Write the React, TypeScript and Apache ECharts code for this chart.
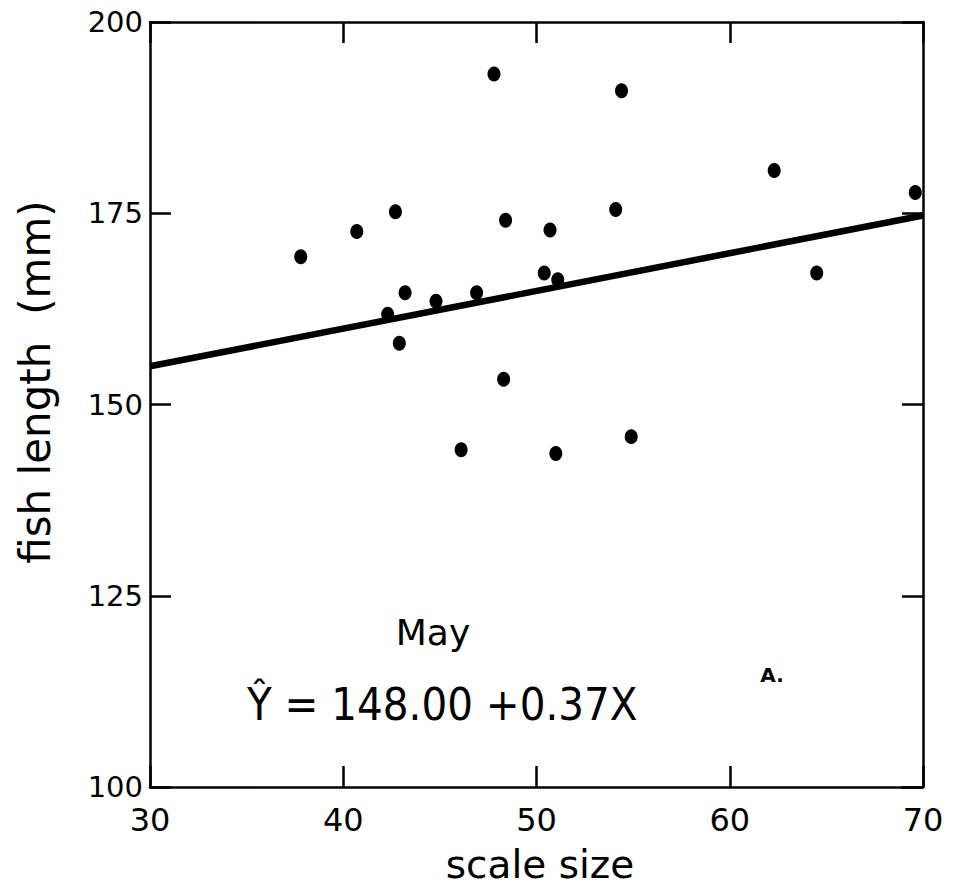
import React, { useEffect, useRef } from "react";
import * as echarts from "echarts";

const scaleSize = [37.8, 40.7, 42.7, 42.3, 43.2, 42.9, 44.8, 46.9, 46.1, 47.8, 48.4, 48.3, 50.4, 50.7, 51.1, 51.0, 54.1, 54.4, 54.9, 62.3, 64.5, 69.6];
const fishLength = [169.3, 172.6, 175.2, 161.8, 164.6, 158.0, 163.5, 164.6, 144.1, 193.2, 174.1, 153.3, 167.2, 172.8, 166.3, 143.6, 175.5, 191.0, 145.8, 180.6, 167.2, 177.7];
const fitX = [30, 70];
const fitY = [155.0, 174.7];
const xTicks = [30, 40, 50, 60, 70];
const yTicks = [100, 125, 150, 175, 200];
const monthLabel = "May";
const equationLabel = "Ŷ = 148.00 +0.37X";
const panelLabel = "A.";
const xTitle = "scale size";
const yTitle = "fish length  (mm)";

const geo = "'DejaVu Sans', sans-serif";
const narrow = "'DejaVu Sans Condensed', 'Liberation Sans Narrow', sans-serif";

export default function App() {
  const ref = useRef<HTMLDivElement>(null);
  useEffect(() => {
    if (!ref.current) return;
    const chart = echarts.init(ref.current, null, { renderer: "svg" });
    const axisLine = { show: true, lineStyle: { color: "#000", width: 2.5 } };
    const tick = { show: true, inside: true, length: 21, lineStyle: { color: "#000", width: 2.5 } };
    chart.setOption({
      animation: false,
      backgroundColor: "#fff",
      grid: { left: 150, right: 35, top: 22, bottom: 103 },
      xAxis: [
        {
          type: "value", min: xTicks[0], max: xTicks[xTicks.length - 1], interval: 10,
          axisLine, axisTick: tick, splitLine: { show: false },
          axisLabel: { margin: 17, fontSize: 32, color: "#000", fontFamily: geo },
        },
        {
          type: "value", position: "top", min: xTicks[0], max: xTicks[xTicks.length - 1], interval: 10,
          axisLine, axisTick: tick, splitLine: { show: false }, axisLabel: { show: false },
        },
      ],
      yAxis: [
        {
          type: "value", min: yTicks[0], max: yTicks[yTicks.length - 1], interval: 25,
          axisLine, axisTick: tick, splitLine: { show: false },
          axisLabel: { margin: 7, fontSize: 29, color: "#000", fontFamily: geo },
        },
        {
          type: "value", position: "right", min: yTicks[0], max: yTicks[yTicks.length - 1], interval: 25,
          axisLine, axisTick: tick, splitLine: { show: false }, axisLabel: { show: false },
        },
      ],
      series: [
        {
          type: "line",
          data: fitX.map((x, i) => [x, fitY[i]]),
          symbol: "none",
          lineStyle: { color: "#000", width: 6.5 },
          z: 2,
        },
        {
          type: "scatter",
          data: scaleSize.map((x, i) => [x, fishLength[i]]),
          symbol: "circle",
          symbolSize: [13, 15],
          itemStyle: { color: "#000", opacity: 1 },
          z: 3,
        },
      ],
      graphic: [
        {
          type: "text", x: 35, y: 382, rotation: Math.PI / 2,
          style: { text: yTitle, fontSize: 42, fontFamily: geo, fill: "#000", textAlign: "center", textVerticalAlign: "middle" },
        },
        {
          type: "text", x: 540, y: 864,
          style: { text: xTitle, fontSize: 39, fontFamily: geo, fill: "#000", textAlign: "center", textVerticalAlign: "middle" },
        },
        {
          type: "text", x: 433, y: 632,
          style: { text: monthLabel, fontSize: 36, fontFamily: geo, fill: "#000", textAlign: "center", textVerticalAlign: "middle" },
        },
        {
          type: "text", x: 247, y: 704,
          style: { text: equationLabel, fontSize: 45, fontFamily: narrow, fill: "#000", textAlign: "left", textVerticalAlign: "middle" },
        },
        {
          type: "text", x: 772, y: 675,
          style: { text: panelLabel, fontSize: 20, fontWeight: "bold", fontFamily: geo, fill: "#000", textAlign: "center", textVerticalAlign: "middle" },
        },
      ],
    });
    return () => chart.dispose();
  }, []);
  return <div ref={ref} style={{ width: 958, height: 890, margin: "-8px 0 -8px -8px" }} />;
}
